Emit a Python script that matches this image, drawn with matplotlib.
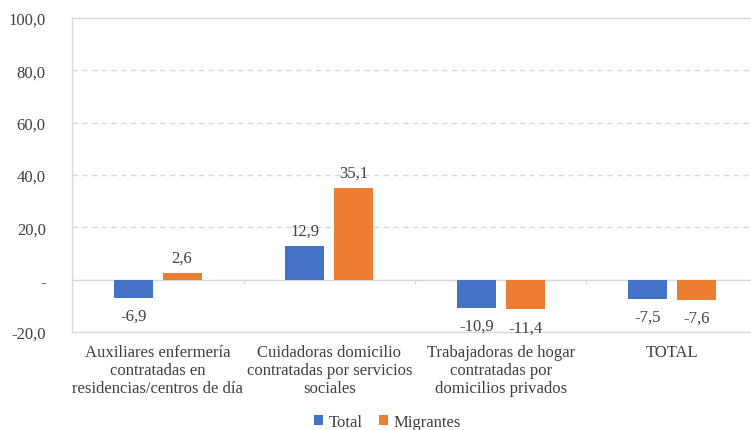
import matplotlib
matplotlib.use("Agg")
import matplotlib.pyplot as plt
import matplotlib.ticker as mticker
import numpy as np

categorias = [
    "Auxiliares enfermería\ncontratadas en\nresidencias/centros de día",
    "Cuidadoras domicilio\ncontratadas por servicios\nsociales",
    "Trabajadoras de hogar\ncontratadas por\ndomicilios privados",
    "TOTAL",
]
total = [-6.9, 12.9, -10.9, -7.5]
migrantes = [2.6, 35.1, -11.4, -7.6]

C_TOTAL = "#4472C4"
C_MIGR = "#ED7D31"
C_GRID = "#D9D9D9"
C_TEXT = "#404040"

plt.rcParams["font.family"] = ["Liberation Serif", "DejaVu Serif"]
FS = 12

fig = plt.figure(figsize=(7.51, 4.31), dpi=100)
ax = fig.add_axes([0.0959, 0.2274, 1.0093 - 0.0959, 0.9559 - 0.2274])

xs = np.arange(len(categorias))
w = 0.228
off = 0.142
b1 = ax.bar(xs - off, total, w, color=C_TOTAL, label="Total", zorder=3)
b2 = ax.bar(xs + off, migrantes, w, color=C_MIGR, label="Migrantes", zorder=3)

for bars in (b1, b2):
    for r in bars:
        v = r.get_height()
        ax.annotate(f"{v:.1f}".replace(".", ","),
                    (r.get_x() + r.get_width() / 2, v),
                    textcoords="offset points",
                    xytext=(0, 5 if v >= 0 else -7),
                    ha="center", va="bottom" if v >= 0 else "top",
                    fontsize=FS, color=C_TEXT)

ax.set_ylim(-20, 100)
ax.set_xlim(-0.5, len(categorias) - 0.5)
ax.set_yticks([-20, 0, 20, 40, 60, 80, 100])
ax.yaxis.set_major_formatter(mticker.FuncFormatter(
    lambda v, _: "-" if abs(v) < 1e-9 else f"{v:.1f}".replace(".", ",")))

for y in [20, 40, 60, 80]:
    ax.axhline(y, color=C_GRID, lw=1, ls=(0, (4, 3)), zorder=1)
ax.axhline(0, color=C_GRID, lw=1, zorder=2)
ax.vlines(xs[:-1] + 0.5, -1.5, 0, color=C_GRID, lw=1, zorder=2)

ax.set_xticks(xs)
ax.set_xticklabels(categorias, fontsize=FS, color=C_TEXT, linespacing=1.15)
ax.tick_params(axis="x", length=0, pad=9)
ax.tick_params(axis="y", length=0, pad=19, labelsize=FS, labelcolor=C_TEXT)

for s in ["left", "top", "bottom"]:
    ax.spines[s].set_color(C_GRID)
    ax.spines[s].set_linewidth(1)
ax.spines["right"].set_visible(False)

fig.legend(handles=[b1, b2], loc="lower center", bbox_to_anchor=(0.516, -0.035),
           ncol=2, frameon=False, fontsize=FS, handlelength=0.55, handleheight=0.55,
           handletextpad=0.3, columnspacing=1.0, labelcolor=C_TEXT)

fig.savefig("out.png", dpi=100)
